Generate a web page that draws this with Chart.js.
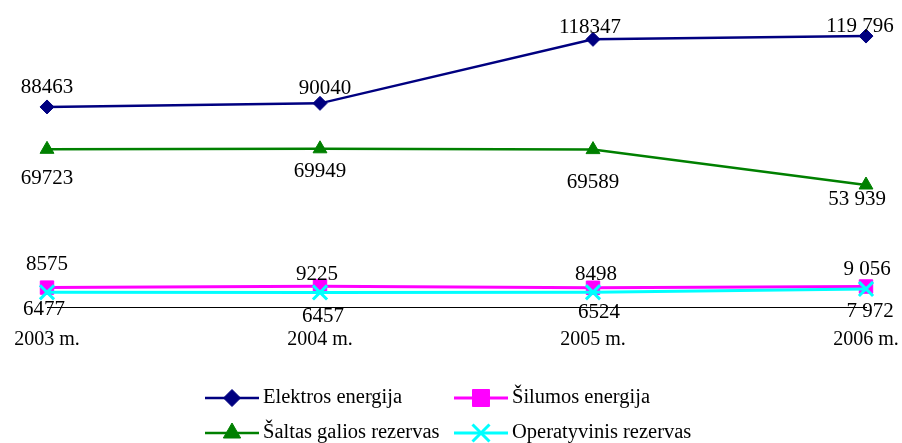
<!DOCTYPE html>
<html>
<head>
<meta charset="utf-8">
<script src="https://cdn.jsdelivr.net/npm/chart.js@4.4.1/dist/chart.umd.min.js"></script>
<style>
html,body{margin:0;padding:0;background:#fff;}
#wrap{position:relative;width:902px;height:443px;}
</style>
</head>
<body>
<div id="wrap"><canvas id="c" width="902" height="443"></canvas></div>
<script>
const categories = ["2003 m.", "2004 m.", "2005 m.", "2006 m."];
const elektros = [88463, 90040, 118347, 119796];
const silumos = [8575, 9225, 8498, 9056];
const saltas = [69723, 69949, 69589, 53939];
const operatyvinis = [6477, 6457, 6524, 7972];
const elektrosLabels = ["88463", "90040", "118347", "119 796"];
const silumosLabels = ["8575", "9225", "8498", "9 056"];
const saltasLabels = ["69723", "69949", "69589", "53 939"];
const operatyvinisLabels = ["6477", "6457", "6524", "7 972"];

// label placement relative to the point (pixels)
const labelOffsets = [
  {dx:[0,5,-3,-6], dy:[-19,-15,-12,-10]},
  {dx:[0,-3,3,1], dy:[-23,-12,-13,-17]},
  {dx:[0,0,0,-9], dy:[29,23,33,14]},
  {dx:[-3,3,6,4], dy:[17,24,20,23]}
];
const allLabels = [elektrosLabels, silumosLabels, saltasLabels, operatyvinisLabels];
const FONT = "'Liberation Serif', 'Times New Roman', serif";

const dataLabelPlugin = {
  id: 'dataLabels',
  afterDatasetsDraw(chart) {
    const ctx = chart.ctx;
    ctx.save();
    ctx.font = "21px " + FONT;
    ctx.fillStyle = "#000";
    ctx.textAlign = "center";
    ctx.textBaseline = "middle";
    chart.data.datasets.forEach((ds, i) => {
      const meta = chart.getDatasetMeta(i);
      meta.data.forEach((pt, j) => {
        const o = labelOffsets[i];
        ctx.fillText(allLabels[i][j], pt.x + o.dx[j], pt.y + o.dy[j]);
      });
    });
    ctx.restore();
  }
};

const legendCells = [
  {ds:0, x:205, y:398, r:8.5},
  {ds:1, x:454, y:398, r:12},
  {ds:2, x:205, y:433, r:10},
  {ds:3, x:454, y:433, r:12}
];

const legendPlugin = {
  id: 'customLegend',
  afterDraw(chart) {
    const ctx = chart.ctx;
    ctx.save();
    legendCells.forEach(c => {
      const ds = chart.data.datasets[c.ds];
      ctx.strokeStyle = ds.borderColor;
      ctx.lineWidth = ds.borderWidth;
      ctx.beginPath();
      ctx.moveTo(c.x, c.y);
      ctx.lineTo(c.x + 54, c.y);
      ctx.stroke();
      ctx.fillStyle = ds.pointBackgroundColor;
      ctx.strokeStyle = ds.pointBorderColor;
      ctx.lineWidth = ds.pointBorderWidth;
      Chart.helpers.drawPoint(ctx, {
        pointStyle: ds.pointStyle,
        radius: c.r,
        rotation: 0,
        borderWidth: ds.pointBorderWidth
      }, c.x + 27, c.y);
      ctx.font = "20.5px " + FONT;
      ctx.fillStyle = "#000";
      ctx.textAlign = "left";
      ctx.textBaseline = "middle";
      ctx.fillText(ds.label, c.x + 58, c.y);
    });
    ctx.restore();
  }
};

new Chart(document.getElementById('c'), {
  type: 'line',
  data: {
    labels: categories,
    datasets: [
      {label: "Elektros energija", data: elektros, borderColor: "#000080", backgroundColor: "#000080",
       pointBackgroundColor: "#000080", pointBorderColor: "#000080", pointBorderWidth: 1,
       borderWidth: 2.5, pointStyle: 'rectRot', pointRadius: 7, pointHoverRadius: 7, order: 3},
      {label: "Šilumos energija", data: silumos, borderColor: "#FF00FF", backgroundColor: "#FF00FF",
       pointBackgroundColor: "#FF00FF", pointBorderColor: "#FF00FF", pointBorderWidth: 1,
       borderWidth: 3, pointStyle: 'rect', pointRadius: 9.5, pointHoverRadius: 9.5, order: 2},
      {label: "Šaltas galios rezervas", data: saltas, borderColor: "#008000", backgroundColor: "#008000",
       pointBackgroundColor: "#008000", pointBorderColor: "#008000", pointBorderWidth: 1,
       borderWidth: 2.5, pointStyle: 'triangle', pointRadius: 8, pointHoverRadius: 8, order: 4},
      {label: "Operatyvinis rezervas", data: operatyvinis, borderColor: "#00FFFF", backgroundColor: "#00FFFF",
       pointBackgroundColor: "#00FFFF", pointBorderColor: "#00FFFF", pointBorderWidth: 3,
       borderWidth: 3, pointStyle: 'crossRot', pointRadius: 10, pointHoverRadius: 10, order: 1}
    ]
  },
  options: {
    responsive: false,
    animation: false,
    events: [],
    layout: {padding: {left: 47, right: 36, top: 11, bottom: 89}},
    plugins: {legend: {display: false}, tooltip: {enabled: false}},
    scales: {
      y: {display: false, min: 0, max: 130000},
      x: {
        offset: false,
        grid: {display: true, drawOnChartArea: false, drawTicks: true, tickLength: 19, color: "rgba(0,0,0,0)"},
        border: {display: true, color: "#000", width: 1},
        ticks: {color: "#000", font: {family: FONT, size: 20}, padding: 2, maxRotation: 0, autoSkip: false}
      }
    }
  },
  plugins: [dataLabelPlugin, legendPlugin]
});
</script>
</body>
</html>
